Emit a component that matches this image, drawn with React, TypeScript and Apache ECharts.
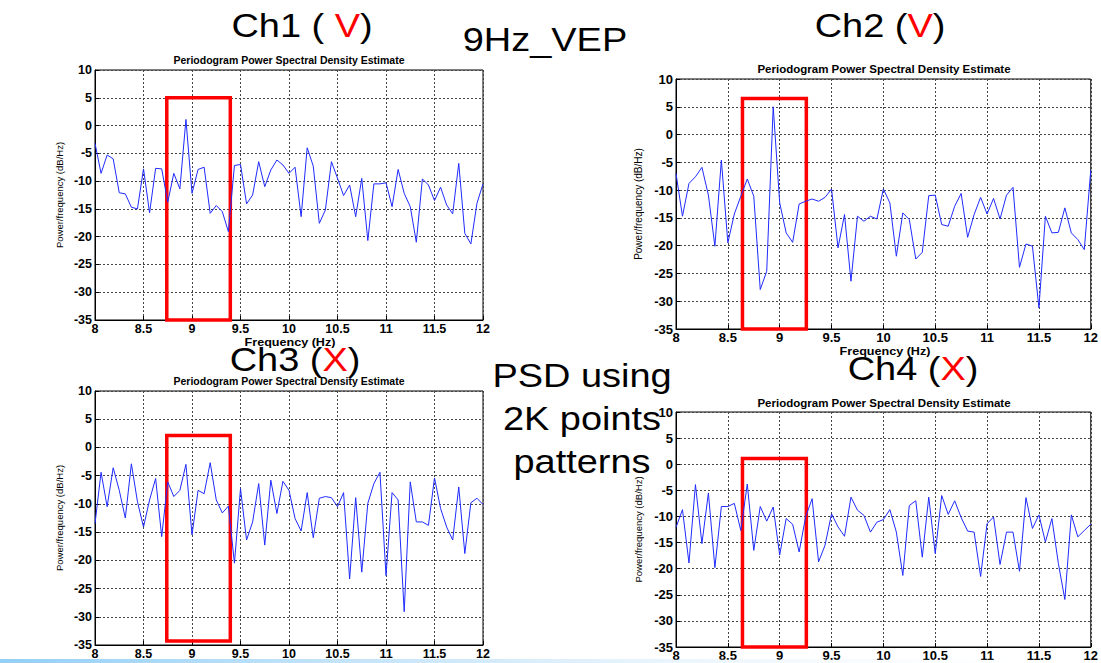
import React, { useEffect, useRef } from "react";
import * as echarts from "echarts";

const FREQ = [
  8, 8.0625, 8.125, 8.1875, 8.25, 8.3125, 8.375, 8.4375, 8.5, 8.5625, 8.625, 8.6875, 8.75, 8.8125, 8.875, 8.9375,
  9, 9.0625, 9.125, 9.1875, 9.25, 9.3125, 9.375, 9.4375, 9.5, 9.5625, 9.625, 9.6875, 9.75, 9.8125, 9.875, 9.9375,
  10, 10.0625, 10.125, 10.1875, 10.25, 10.3125, 10.375, 10.4375, 10.5, 10.5625, 10.625, 10.6875, 10.75, 10.8125, 10.875, 10.9375,
  11, 11.0625, 11.125, 11.1875, 11.25, 11.3125, 11.375, 11.4375, 11.5, 11.5625, 11.625, 11.6875, 11.75, 11.8125, 11.875, 11.9375,
  12,
];

const CH1 = [
  -3.2, -8.6, -5.3, -6.0, -12.1, -12.3, -14.7, -15.0, -7.8, -15.7,
  -7.7, -7.8, -13.8, -8.6, -11.4, 1.1, -12.2, -7.9, -7.5, -15.8,
  -14.4, -15.5, -19.1, -7.2, -7.0, -14.1, -12.5, -6.5, -11.0, -8.0,
  -6.2, -7.1, -8.6, -7.5, -16.4, -4.0, -7.3, -17.6, -15.2, -6.5,
  -9.5, -12.6, -10.7, -16.4, -9.5, -20.7, -10.5, -10.5, -10.3, -14.6,
  -7.9, -12.2, -14.6, -21.0, -9.6, -10.7, -13.5, -11.1, -14.3, -15.9,
  -6.8, -19.4, -21.3, -14.0, -10.5,
];

const CH2 = [
  -7.0, -14.7, -8.8, -7.6, -5.9, -10.9, -20.1, -4.6, -19.5, -14.3,
  -11.1, -8.0, -11.1, -27.9, -24.6, 5.0, -12.3, -17.7, -19.4, -12.5,
  -12.0, -11.6, -12.0, -11.3, -9.8, -20.4, -14.4, -26.4, -14.7, -15.6,
  -14.7, -15.2, -9.8, -12.3, -21.9, -14.1, -15.3, -22.4, -21.2, -11.0,
  -10.9, -16.2, -16.5, -12.9, -10.6, -18.5, -14.4, -11.3, -14.3, -11.5,
  -15.2, -10.9, -9.5, -23.9, -19.7, -20.1, -31.2, -14.7, -17.7, -17.6,
  -13.2, -17.7, -18.9, -20.7, -6.4,
];

const CH3 = [
  -13.5, -4.4, -10.5, -3.6, -7.6, -12.5, -2.9, -9.6, -14.1, -9.3,
  -5.5, -15.8, -6.1, -8.7, -7.6, -3.0, -15.5, -7.6, -8.2, -2.7,
  -9.3, -11.6, -10.4, -20.5, -7.3, -16.4, -13.2, -6.4, -17.3, -5.8,
  -11.7, -6.0, -7.6, -12.6, -14.8, -8.0, -16.0, -9.0, -8.7, -8.9,
  -10.5, -8.0, -23.3, -8.9, -22.1, -9.9, -6.4, -4.4, -22.7, -8.0,
  -9.3, -29.1, -6.1, -13.2, -13.2, -13.8, -5.4, -10.8, -14.1, -16.4,
  -7.0, -18.8, -9.8, -9.0, -10.1,
];

const CH4 = [
  -12.1, -8.7, -18.9, -3.9, -15.2, -5.5, -19.8, -8.1, -8.1, -7.5,
  -12.7, -3.8, -16.5, -8.1, -10.9, -8.2, -17.4, -10.4, -11.5, -16.8,
  -10.1, -6.6, -18.7, -15.5, -9.5, -12.0, -13.8, -6.3, -8.8, -9.8,
  -13.0, -11.1, -10.6, -8.7, -13.0, -21.3, -7.9, -7.0, -17.8, -6.3,
  -17.1, -6.0, -9.6, -7.0, -10.2, -12.8, -13.0, -21.5, -11.4, -10.1,
  -19.2, -13.0, -13.0, -20.5, -6.4, -12.3, -9.7, -14.9, -10.4, -19.0,
  -25.9, -9.7, -13.9, -12.7, -11.5,
];

// red highlight boxes: [x0, yTop, x1, yBottom]
const BOX1 = [8.74, 5, 9.395, -35];
const BOX2 = [8.641, 6.5, 9.257, -35];
const BOX3 = [8.74, 2.1, 9.395, -34.3];
const BOX4 = [8.641, 1.1, 9.257, -35];

const X_MIN = 8;
const X_MAX = 12;
const X_STEP = 0.5;
const Y_MIN = -35;
const Y_MAX = 10;
const Y_STEP = 5;

const SUBTITLE = "Periodogram Power Spectral Density Estimate";
const Y_NAME = "Power/frequency (dB/Hz)";
const X_NAME = "Frequency (Hz)";

const FONT = "Arial, 'Liberation Sans', Helvetica, sans-serif";

const PANELS = [
  { vals: CH1, box: BOX1, grid: { left: 95, top: 70, width: 388, height: 250 }, fs: 12.5, yGap: 31, yNameFs: 9.5 },
  { vals: CH2, box: BOX2, grid: { left: 676, top: 79, width: 416, height: 250 }, fs: 13, yGap: 33, yNameFs: 10 },
  { vals: CH3, box: BOX3, grid: { left: 95, top: 391, width: 388, height: 254 }, fs: 12.5, yGap: 31, yNameFs: 9.5 },
  { vals: CH4, box: BOX4, grid: { left: 676, top: 412, width: 416, height: 235 }, fs: 13, yGap: 33, yNameFs: 9.5 },
];

function bigText(text: string, x: number, y: number, rich?: boolean) {
  return {
    type: "text",
    x,
    y,
    scaleX: 1.15,
    z: 100,
    style: rich
      ? {
          text,
          align: "center",
          verticalAlign: "middle",
          rich: {
            a: { fontSize: 33, fontFamily: FONT, fill: "#000" },
            r: { fontSize: 33, fontFamily: FONT, fill: "#ff0000" },
          },
        }
      : { text, align: "center", verticalAlign: "middle", fontSize: 33, fontFamily: FONT, fill: "#000" },
  };
}

function smallText(text: string, x: number, y: number, size: number, scaleX = 1) {
  return {
    type: "text",
    x,
    y,
    scaleX,
    z: 50,
    style: { text, align: "center", verticalAlign: "middle", fontSize: size, fontWeight: "bold", fontFamily: FONT, fill: "#000" },
  };
}

export default function App() {
  const ref = useRef<HTMLDivElement>(null);

  useEffect(() => {
    if (!ref.current) return;
    const chart = echarts.init(ref.current, null, { renderer: "svg" });

    const grid = PANELS.map((p) => ({
      ...p.grid,
      show: true,
      borderColor: "#000",
      borderWidth: 1,
      backgroundColor: "#fff",
    }));

    const xAxis = PANELS.map((p, i) => ({
      type: "value",
      gridIndex: i,
      min: X_MIN,
      max: X_MAX,
      interval: X_STEP,
      axisLine: { show: true, onZero: false, lineStyle: { color: "#000", width: 1 } },
      axisTick: { show: true, inside: true, length: 4, lineStyle: { color: "#000" } },
      axisLabel: { color: "#000", fontSize: p.fs, fontWeight: "bold", fontFamily: FONT, margin: 2, showMinLabel: true, showMaxLabel: true },
      splitLine: { show: true, lineStyle: { color: "#444", type: [2, 2], width: 1 } },
    }));

    const yAxis = PANELS.map((p, i) => ({
      type: "value",
      gridIndex: i,
      min: Y_MIN,
      max: Y_MAX,
      interval: Y_STEP,
      name: Y_NAME,
      nameLocation: "middle",
      nameGap: p.yGap,
      nameTextStyle: { color: "#000", fontSize: p.yNameFs, fontFamily: FONT },
      axisLine: { show: true, onZero: false, lineStyle: { color: "#000", width: 1 } },
      axisTick: { show: true, inside: true, length: 4, lineStyle: { color: "#000" } },
      axisLabel: { color: "#000", fontSize: p.fs, fontWeight: "bold", fontFamily: FONT, margin: 3, showMinLabel: true, showMaxLabel: true },
      splitLine: { show: true, lineStyle: { color: "#444", type: [2, 2], width: 1 } },
    }));

    const series = PANELS.map((p, i) => ({
      type: "line",
      xAxisIndex: i,
      yAxisIndex: i,
      data: FREQ.map((f, j) => [f, p.vals[j]]),
      symbol: "none",
      showSymbol: false,
      lineStyle: { color: "#1f2bff", width: 1 },
      z: 3,
      markArea: {
        silent: true,
        label: { show: false },
        itemStyle: { color: "rgba(0,0,0,0)", borderColor: "#ff0000", borderWidth: 3.5 },
        data: [[{ coord: [p.box[0], p.box[1]] }, { coord: [p.box[2], p.box[3]] }]],
      },
    }));

    const graphic = [
      bigText("{a|Ch1 ( }{r|V}{a|)}", 302, 26, true),
      bigText("9Hz_VEP", 545, 40),
      bigText("{a|Ch2 (}{r|V}{a|)}", 880, 26, true),
      bigText("{a|Ch3 (}{r|X}{a|)}", 295, 360, true),
      bigText("PSD using", 582, 376),
      bigText("2K points", 582, 419),
      bigText("patterns", 582, 462),
      bigText("{a|Ch4 (}{r|X}{a|)}", 913, 369, true),
      smallText(SUBTITLE, 289, 60, 10.5),
      smallText(SUBTITLE, 884, 69, 11.5),
      smallText(SUBTITLE, 289, 381, 10.5),
      smallText(SUBTITLE, 884, 403, 11.5),
      smallText(X_NAME, 290, 342, 10.5, 1.2),
      smallText(X_NAME, 885, 351, 10.5, 1.2),
      {
        type: "rect",
        shape: { x: 0, y: 659, width: 1101, height: 4 },
        z: 1,
        style: {
          fill: new echarts.graphic.LinearGradient(0, 0, 1, 0, [
            { offset: 0, color: "rgba(120,195,245,0.8)" },
            { offset: 0.45, color: "rgba(170,215,245,0.5)" },
            { offset: 1, color: "rgba(255,255,255,0)" },
          ]),
        },
      },
    ];

    chart.setOption({
      animation: false,
      backgroundColor: "#fff",
      grid,
      xAxis,
      yAxis,
      series,
      graphic,
    });

    return () => chart.dispose();
  }, []);

  return (
    <div
      ref={ref}
      style={{ position: "absolute", left: 0, top: 0, width: 1101, height: 663, background: "#fff" }}
    />
  );
}
